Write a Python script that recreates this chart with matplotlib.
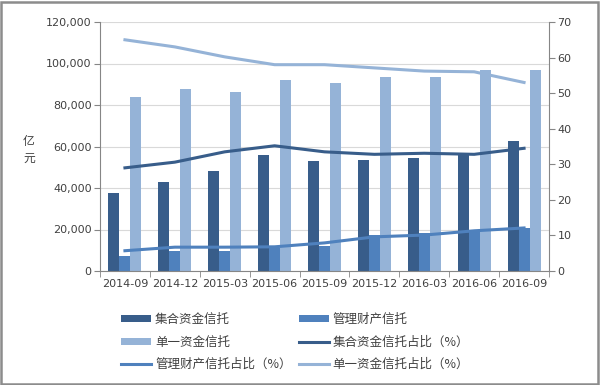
import numpy as np
import matplotlib.pyplot as plt
from matplotlib.patches import Rectangle

plt.rcParams['font.family'] = ['DejaVu Sans', 'Noto Sans CJK SC']

periods = ['2014-09', '2014-12', '2015-03', '2015-06', '2015-09',
           '2015-12', '2016-03', '2016-06', '2016-09']
jihe = [37500, 43000, 48000, 56000, 53000, 53500, 54500, 56000, 62800]
guanli = [7200, 9600, 9600, 11000, 12000, 17300, 18300, 19300, 20700]
danyi = [84000, 87700, 86300, 92000, 90600, 93500, 93500, 96900, 96900]
jihe_pct = [29.0, 30.6, 33.5, 35.2, 33.5, 32.8, 33.1, 32.8, 34.5]
guanli_pct = [5.7, 6.7, 6.7, 6.8, 7.9, 9.6, 10.1, 11.3, 12.1]
danyi_pct = [65.0, 63.0, 60.2, 58.0, 58.0, 57.1, 56.2, 56.0, 53.0]

c_dark = '#385d8a'
c_mid = '#4f81bd'
c_light = '#95b3d7'
txt = '#404040'
cjk = ['Noto Sans CJK SC', 'DejaVu Sans']

fig = plt.figure(figsize=(6, 3.85), dpi=100)
fig.patches.append(Rectangle((0.002, 0.003), 0.995, 0.993, transform=fig.transFigure,
                             fill=False, edgecolor='#8c8c8c', linewidth=1.8))
ax = fig.add_axes([100/600, 1 - 271/385, 449/600, 249/385])
ax2 = ax.twinx()

x = np.arange(len(periods))
w = 0.22
b1 = ax.bar(x - w, jihe, w, color=c_dark, label='集合资金信托')
b2 = ax.bar(x, guanli, w, color=c_mid, label='管理财产信托')
b3 = ax.bar(x + w, danyi, w, color=c_light, label='单一资金信托')

l1, = ax2.plot(x, jihe_pct, color=c_dark, lw=2.2, label='集合资金信托占比（%）')
l2, = ax2.plot(x, guanli_pct, color=c_mid, lw=2.2, label='管理财产信托占比（%）')
l3, = ax2.plot(x, danyi_pct, color=c_light, lw=2.2, label='单一资金信托占比（%）')

ax.set_xlim(-0.5, len(periods) - 0.5)
ax.set_ylim(0, 120000)
ax.set_yticks(np.arange(0, 120001, 20000))
ax.set_yticklabels([f'{v:,}' for v in range(0, 120001, 20000)])
ax2.set_ylim(0, 70)
ax2.set_yticks(np.arange(0, 71, 10))

ax.set_xticks(x)
ax.set_xticklabels(periods)
ax.set_xticks(np.arange(-0.5, len(periods)), minor=True)
ax.tick_params(axis='x', which='major', length=0, pad=6)
ax.tick_params(axis='x', which='minor', length=4, color='#868686')

ax.grid(axis='y', color='#d9d9d9', lw=0.8)
ax.set_axisbelow(True)

for a in (ax, ax2):
    for s in a.spines.values():
        s.set_visible(False)
    a.tick_params(axis='y', length=4, color='#868686', labelsize=8, labelcolor=txt, pad=2)
ax.tick_params(axis='x', labelsize=8, labelcolor=txt)
ax.spines['left'].set_visible(True)
ax.spines['left'].set_color('#868686')
ax.spines['bottom'].set_visible(True)
ax.spines['bottom'].set_color('#868686')
ax2.spines['right'].set_visible(True)
ax2.spines['right'].set_color('#868686')

fig.text(29/600, 1 - 141/385, '亿', fontsize=8.5, color=txt, ha='center', va='center', family=cjk)
fig.text(29/600, 1 - 158/385, '元', fontsize=8.5, color=txt, ha='center', va='center', family=cjk)

# row-wise order like the original legend
handles = [b1, b3, l2, b2, l1, l3]
leg = fig.legend(handles=handles, loc='upper left', bbox_to_anchor=(110/600, 1 - 302/385),
                 ncol=2, frameon=False, prop={'family': cjk, 'size': 9},
                 handlelength=2.4, handleheight=0.45, columnspacing=0.6,
                 labelspacing=0.75, handletextpad=0.3)
for t in leg.get_texts():
    t.set_color(txt)

fig.savefig('out.png', dpi=100)
